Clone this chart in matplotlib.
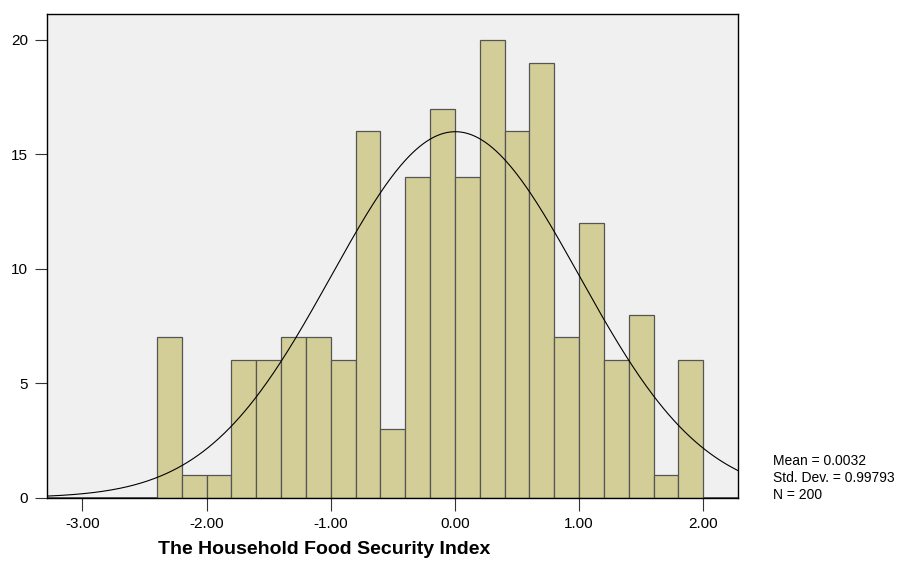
import numpy as np
import matplotlib.pyplot as plt

plt.rcParams['font.family'] = ['Liberation Sans', 'DejaVu Sans']

# histogram bins (width 0.2) and counts
bin_edges = np.round(np.arange(-2.4, 2.0001, 0.2), 2)
counts = [7, 1, 1, 6, 6, 7, 7, 6, 16, 3, 14, 17, 14, 20, 16, 19, 7, 12, 6, 8, 1, 6]
mean = 0.0032
std = 0.99793
n = 200
xticks = [-3.0, -2.0, -1.0, 0.0, 1.0, 2.0]
yticks = [0, 5, 10, 15, 20]

fig = plt.figure(figsize=(9.07, 5.61), dpi=100)
ax = fig.add_axes([47.3 / 907, 1 - 497.7 / 561, (738.3 - 47.3) / 907, (497.7 - 14.3) / 561])
ax.set_facecolor('#F0F0F0')

widths = np.diff(bin_edges)
ax.bar(bin_edges[:-1], counts, width=widths, align='edge',
       color='#D3CE97', edgecolor='#555555', linewidth=0.9, zorder=2)

xlim = (-3.282, 2.282)
ax.set_xlim(xlim)
ax.set_ylim(0, 21.12)

# empty bins drawn as a flat line on the baseline
ax.hlines(0, xlim[0], bin_edges[0], color='#555555', lw=2, zorder=2)
ax.hlines(0, bin_edges[-1], xlim[1], color='#555555', lw=2, zorder=2)

# normal curve
xs = np.linspace(xlim[0], xlim[1], 400)
bw = widths[0]
ys = n * bw / (std * np.sqrt(2 * np.pi)) * np.exp(-0.5 * ((xs - mean) / std) ** 2)
ax.plot(xs, ys, color='black', lw=0.8, zorder=3)

ax.set_xticks(xticks)
ax.set_xticklabels(['%.2f' % t for t in xticks])
ax.set_yticks(yticks)
ax.tick_params(direction='out', length=9, width=0.8, labelsize=11, color='#333333', pad=5)
for s in ax.spines.values():
    s.set_linewidth(1)
    s.set_color('black')

fig.text(324 / 907, 1 - 549 / 561, 'The Household Food Security Index',
         ha='center', va='center', fontsize=14, fontweight='bold')
fig.text(773 / 907, 1 - 478 / 561,
         'Mean = %.4f\nStd. Dev. = %.5f\nN = %d' % (mean, std, n),
         ha='left', va='center', fontsize=10, linespacing=1.3)

fig.savefig('out.png', dpi=100)
